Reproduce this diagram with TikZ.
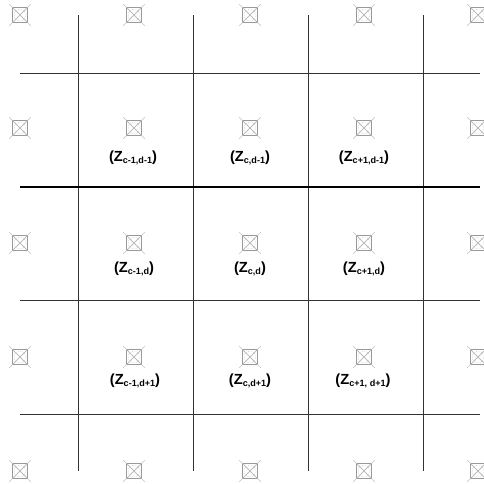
\documentclass[tikz,border=0pt]{standalone}
\usepackage{fontspec}
\setmainfont{Liberation Sans}
\usetikzlibrary{positioning}

\tikzset{
    sensor/.style={draw=black!40, line width=0.4pt, rectangle, minimum size=11.5pt, inner sep=0pt,
        path picture={
            \draw[black!40, line width=0.3pt] (path picture bounding box.north west) -- (path picture bounding box.south east)
                (path picture bounding box.north east) -- (path picture bounding box.south west);
            \draw[black!40, line width=0.3pt, densely dotted] (path picture bounding box.center) circle (4.4pt);
        }},
    spoke/.style={draw=black!25, line width=0.3pt, shorten <=-3pt, shorten >=-3pt},
    gridline/.style={draw=black!80, line width=0.7pt},
    midline/.style={draw=black, line width=1.1pt},
    lbl/.style={text=black, font=\bfseries\fontsize{11}{12}\selectfont, inner sep=0pt}
}

\newcommand{\zlab}[1]{(Z{\fontsize{6.8}{7}\selectfont\raisebox{-1.2pt}{#1}})}

\begin{document}
\begin{tikzpicture}[x=0.75pt, y=-0.75pt]

    \useasboundingbox (0,0) rectangle (484,483);

    % grid
    \foreach \x in {78,193,308,423}
        \draw[gridline] (\x,15) -- (\x,471);
    \foreach \y in {73,300,414}
        \draw[gridline] (20,\y) -- (480,\y);
    \draw[midline] (20,187) -- (480,187);

    % sensors
    \foreach \x [count=\i] in {20,134,250,364,478}
        \foreach \y [count=\j] in {15,128,243,357,471} {
            \node[sensor] (s-\i-\j) at (\x,\y) {};
            \draw[spoke] (s-\i-\j.north west) -- (s-\i-\j.south east);
            \draw[spoke] (s-\i-\j.north east) -- (s-\i-\j.south west);
        }

    % cell labels
    \node[lbl] (zTopLeft) at (133,158) {\zlab{c-1,d-1}};

    \node[lbl] (zTop) at (250,158) {\zlab{c,d-1}};

    \node[lbl] (zTopRight) at (364,158) {\zlab{c+1,d-1}};

    \node[lbl] (zLeft) at (134,269) {\zlab{c-1,d}};

    \node[lbl] (zCentre) at (250,269) {\zlab{c,d}};

    \node[lbl] (zRight) at (364,269) {\zlab{c+1,d}};

    \node[lbl] (zBotLeft) at (135,381) {\zlab{c-1,d+1}};

    \node[lbl] (zBot) at (250,381) {\zlab{c,d+1}};

    \node[lbl] (zBotRight) at (363,381) {\zlab{c+1, d+1}};
\end{tikzpicture}
\end{document}
